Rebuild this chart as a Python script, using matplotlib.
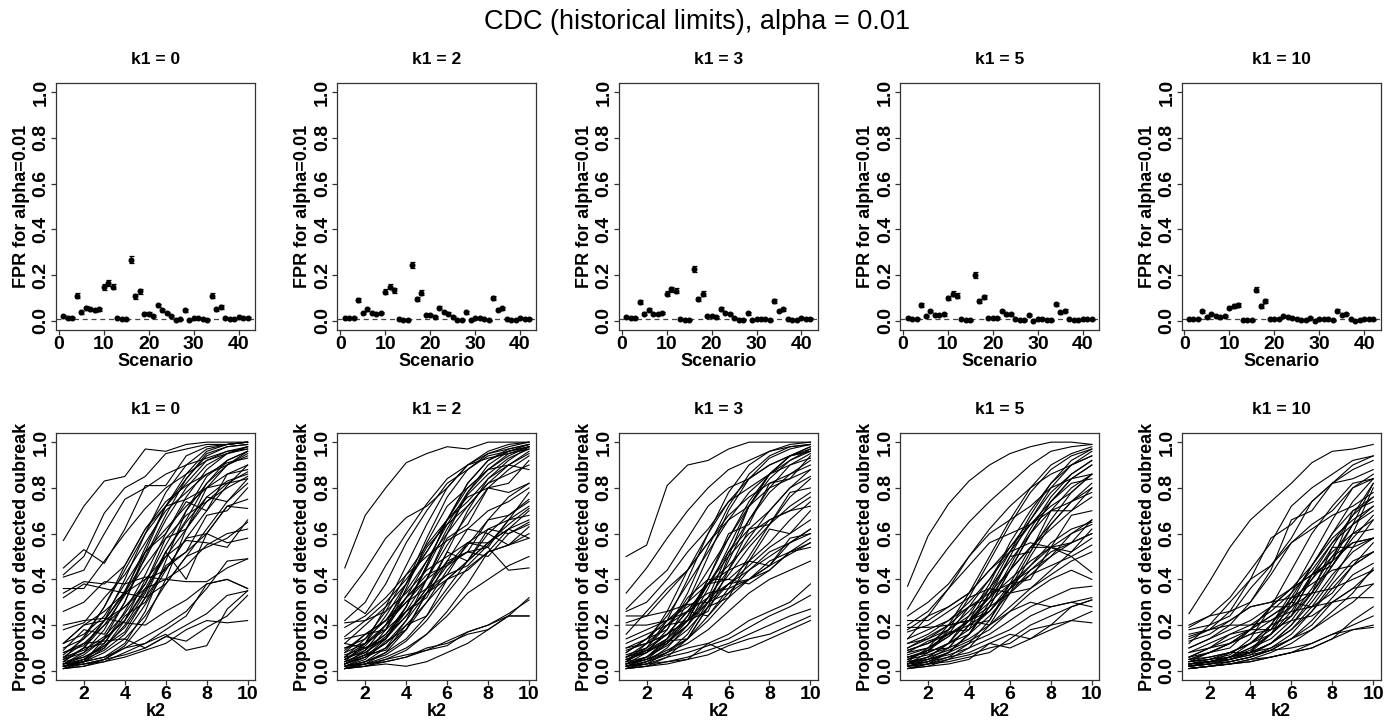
import numpy as np
import matplotlib
matplotlib.use("Agg")
import matplotlib.pyplot as plt

plt.rcParams['font.family'] = ['Liberation Sans', 'DejaVu Sans']

k1_values = [0, 2, 3, 5, 10]
scenarios = list(range(1, 43))
k2 = list(range(1, 11))
alpha = 0.01
n_sim = 4000

fpr_k1_0 = [0.023, 0.013, 0.013, 0.110, 0.038, 0.057, 0.050, 0.046, 0.050, 0.148,
            0.165, 0.150, 0.012, 0.006, 0.006, 0.268, 0.107, 0.129, 0.032, 0.032,
            0.020, 0.068, 0.046, 0.035, 0.020, 0.003, 0.006, 0.046, 0.003, 0.013,
            0.014, 0.008, 0.004, 0.110, 0.051, 0.060, 0.013, 0.006, 0.006, 0.019,
            0.013, 0.013]
fpr_k1_2 = [0.013, 0.012, 0.012, 0.093, 0.035, 0.051, 0.035, 0.029, 0.035, 0.128,
            0.149, 0.133, 0.010, 0.004, 0.004, 0.246, 0.097, 0.123, 0.025, 0.025,
            0.016, 0.057, 0.039, 0.032, 0.016, 0.003, 0.004, 0.038, 0.003, 0.012,
            0.013, 0.006, 0.003, 0.101, 0.048, 0.055, 0.010, 0.004, 0.004, 0.014,
            0.010, 0.010]
fpr_k1_3 = [0.016, 0.012, 0.012, 0.084, 0.032, 0.048, 0.029, 0.029, 0.035, 0.119,
            0.138, 0.132, 0.009, 0.004, 0.004, 0.228, 0.097, 0.119, 0.022, 0.022,
            0.016, 0.052, 0.035, 0.029, 0.014, 0.003, 0.004, 0.033, 0.003, 0.010,
            0.010, 0.006, 0.003, 0.087, 0.043, 0.051, 0.009, 0.004, 0.004, 0.012,
            0.009, 0.009]
fpr_k1_5 = [0.012, 0.007, 0.009, 0.070, 0.023, 0.043, 0.026, 0.026, 0.028, 0.100,
            0.119, 0.110, 0.006, 0.003, 0.003, 0.201, 0.087, 0.104, 0.014, 0.013,
            0.012, 0.043, 0.028, 0.028, 0.010, 0.003, 0.003, 0.026, 0.001, 0.009,
            0.009, 0.004, 0.003, 0.072, 0.038, 0.045, 0.006, 0.003, 0.003, 0.009,
            0.006, 0.006]
fpr_k1_10 = [0.006, 0.006, 0.009, 0.042, 0.017, 0.030, 0.020, 0.016, 0.020, 0.058,
             0.065, 0.070, 0.003, 0.003, 0.003, 0.136, 0.065, 0.088, 0.010, 0.010,
             0.009, 0.023, 0.016, 0.012, 0.007, 0.003, 0.003, 0.013, 0.001, 0.007,
             0.007, 0.006, 0.003, 0.045, 0.025, 0.029, 0.006, 0.001, 0.003, 0.006,
             0.006, 0.006]
fpr_all = [fpr_k1_0, fpr_k1_2, fpr_k1_3, fpr_k1_5, fpr_k1_10]

# detection proportions (percent), one row per scenario, columns k2 = 1..10
det_k1_0 = [
    [57, 72, 83, 85, 97, 96, 99, 100, 100, 100], [45, 53, 47, 62, 81, 81, 94, 98, 99, 100],
    [42, 50, 69, 80, 85, 95, 97, 99, 99, 100], [41, 44, 60, 75, 80, 86, 90, 93, 96, 98],
    [36, 36, 48, 60, 71, 80, 86, 92, 95, 97], [34, 39, 38, 46, 62, 74, 81, 86, 91, 93],
    [32, 38, 36, 34, 40, 50, 57, 56, 54, 66], [26, 30, 39, 38, 41, 40, 39, 39, 45, 49],
    [20, 22, 23, 21, 20, 26, 31, 38, 40, 36], [18, 21, 32, 42, 56, 70, 78, 86, 90, 96],
    [12, 16, 24, 38, 52, 72, 84, 95, 98, 99], [12, 20, 26, 34, 49, 66, 80, 90, 95, 98],
    [10, 14, 28, 44, 60, 72, 82, 92, 96, 97], [9, 18, 16, 30, 52, 60, 74, 70, 86, 88],
    [8, 11, 22, 28, 38, 58, 62, 76, 74, 82], [7, 14, 22, 35, 52, 62, 72, 80, 86, 90],
    [6, 9, 15, 25, 38, 55, 70, 82, 90, 95], [5, 8, 14, 22, 35, 50, 62, 74, 80, 85],
    [5, 10, 20, 33, 46, 58, 68, 74, 82, 87], [4, 10, 12, 24, 30, 46, 52, 68, 70, 80],
    [4, 6, 11, 19, 32, 45, 52, 60, 72, 75], [3, 7, 14, 22, 40, 44, 58, 60, 72, 71],
    [3, 5, 11, 17, 32, 38, 50, 54, 58, 65], [3, 6, 10, 22, 36, 52, 65, 76, 83, 86],
    [2, 4, 8, 14, 24, 38, 50, 62, 74, 84], [2, 5, 9, 16, 29, 44, 58, 70, 81, 90],
    [2, 4, 10, 20, 34, 52, 66, 82, 92, 96], [2, 5, 12, 26, 42, 60, 76, 88, 95, 98],
    [1, 4, 14, 30, 50, 68, 84, 94, 98, 99], [3, 8, 18, 34, 54, 72, 86, 96, 99, 100],
    [4, 10, 22, 40, 60, 78, 90, 97, 99, 100], [2, 3, 5, 7, 10, 15, 20, 25, 33, 35],
    [2, 3, 4, 6, 9, 12, 18, 22, 21, 22], [1, 2, 4, 8, 12, 18, 24, 38, 40, 36],
    [1, 3, 5, 10, 15, 20, 26, 36, 48, 49], [3, 4, 6, 10, 12, 16, 9, 11, 27, 35],
    [8, 12, 13, 14, 10, 15, 13, 19, 24, 33], [12, 20, 22, 34, 32, 52, 40, 60, 56, 58],
    [6, 12, 20, 28, 36, 40, 46, 55, 60, 62], [2, 4, 6, 12, 26, 48, 70, 85, 92, 96],
    [1, 2, 5, 11, 22, 40, 62, 80, 90, 94], [5, 15, 28, 46, 62, 72, 75, 80, 82, 84],
]
det_k1_2 = [
    [45, 68, 80, 91, 95, 98, 97, 100, 100, 100], [32, 44, 58, 67, 72, 80, 90, 95, 97, 99],
    [31, 25, 38, 56, 70, 82, 88, 94, 96, 98], [22, 30, 46, 60, 73, 84, 90, 93, 95, 97],
    [21, 22, 26, 34, 44, 50, 56, 62, 60, 64], [19, 24, 32, 42, 50, 57, 62, 60, 55, 63],
    [14, 16, 22, 30, 40, 47, 52, 54, 44, 45], [12, 20, 28, 38, 54, 64, 72, 82, 86, 90],
    [10, 14, 22, 35, 48, 60, 72, 82, 90, 95], [9, 16, 18, 32, 40, 58, 64, 80, 82, 92],
    [8, 12, 20, 32, 48, 64, 78, 88, 95, 98], [7, 10, 16, 26, 40, 55, 68, 80, 88, 94],
    [6, 12, 24, 38, 52, 66, 74, 84, 90, 96], [5, 9, 16, 28, 45, 62, 77, 86, 93, 97],
    [5, 10, 14, 26, 32, 48, 52, 66, 68, 74], [4, 7, 12, 20, 30, 40, 48, 56, 62, 66],
    [4, 8, 15, 24, 36, 48, 62, 70, 74, 80], [3, 6, 10, 18, 30, 44, 55, 66, 76, 82],
    [3, 7, 9, 20, 24, 40, 48, 62, 66, 78], [3, 6, 12, 22, 34, 46, 56, 56, 64, 71],
    [2, 5, 13, 18, 34, 42, 56, 54, 66, 68], [2, 4, 8, 14, 24, 36, 48, 56, 62, 58],
    [2, 4, 7, 13, 22, 34, 45, 52, 55, 58], [2, 3, 5, 7, 9, 13, 17, 20, 25, 31],
    [1, 2, 4, 6, 10, 12, 16, 18, 24, 32], [1, 3, 4, 6, 9, 11, 17, 20, 24, 24],
    [1, 2, 3, 2, 4, 8, 12, 18, 24, 24], [1, 3, 8, 18, 34, 52, 70, 84, 92, 98],
    [2, 6, 14, 28, 46, 66, 82, 92, 97, 99], [3, 9, 20, 38, 58, 76, 88, 95, 98, 100],
    [4, 12, 28, 46, 64, 80, 90, 96, 99, 100], [1, 4, 10, 22, 40, 60, 78, 90, 96, 99],
    [6, 14, 26, 42, 55, 66, 76, 80, 78, 82], [10, 12, 18, 26, 34, 40, 44, 52, 55, 60],
    [12, 10, 14, 24, 36, 52, 48, 60, 68, 75], [8, 16, 22, 32, 42, 46, 52, 50, 60, 65],
    [5, 11, 20, 30, 36, 42, 46, 55, 66, 72], [2, 3, 6, 10, 16, 24, 34, 40, 46, 50],
    [1, 2, 5, 9, 16, 26, 38, 52, 62, 70], [6, 8, 14, 28, 46, 66, 82, 92, 96, 98],
    [3, 7, 18, 36, 56, 72, 80, 88, 90, 88], [15, 22, 30, 40, 52, 66, 80, 88, 94, 98],
]
det_k1_3 = [
    [50, 55, 81, 90, 92, 97, 100, 100, 100, 100], [34, 45, 58, 70, 80, 88, 92, 96, 98, 99],
    [27, 36, 44, 58, 72, 80, 84, 90, 94, 96], [26, 30, 40, 52, 62, 74, 80, 86, 90, 93],
    [24, 24, 34, 44, 56, 66, 72, 80, 84, 88], [21, 24, 26, 29, 30, 34, 40, 48, 52, 54],
    [20, 20, 22, 26, 32, 38, 44, 50, 56, 62], [14, 18, 22, 28, 34, 36, 40, 44, 52, 56],
    [10, 14, 24, 38, 52, 66, 78, 86, 92, 97], [9, 12, 20, 30, 44, 58, 72, 84, 92, 96],
    [8, 14, 18, 32, 40, 60, 64, 82, 84, 94], [7, 10, 16, 26, 38, 52, 66, 78, 86, 92],
    [6, 10, 20, 22, 38, 44, 62, 64, 78, 80], [6, 9, 14, 22, 32, 44, 58, 70, 80, 85],
    [5, 8, 13, 20, 30, 42, 54, 64, 72, 78], [5, 9, 16, 26, 38, 50, 60, 66, 70, 76],
    [4, 9, 12, 22, 26, 44, 48, 62, 60, 70], [4, 6, 11, 18, 28, 38, 46, 54, 60, 66],
    [3, 6, 13, 14, 28, 32, 48, 46, 58, 60], [3, 5, 9, 14, 22, 32, 40, 46, 51, 56],
    [3, 5, 8, 12, 18, 26, 34, 40, 44, 48], [2, 4, 7, 10, 12, 16, 22, 26, 30, 38],
    [2, 3, 6, 8, 11, 14, 19, 24, 28, 33], [2, 3, 4, 6, 9, 12, 16, 20, 24, 27],
    [1, 2, 4, 5, 7, 11, 14, 16, 20, 24], [1, 2, 3, 5, 12, 8, 10, 14, 18, 22],
    [2, 5, 12, 24, 40, 58, 74, 86, 94, 98], [1, 4, 10, 20, 36, 54, 72, 86, 94, 98],
    [3, 8, 18, 34, 54, 72, 86, 94, 98, 99], [4, 10, 22, 40, 60, 78, 90, 96, 99, 100],
    [2, 6, 14, 30, 50, 70, 84, 93, 97, 99], [1, 3, 8, 16, 30, 48, 66, 80, 90, 95],
    [8, 14, 22, 30, 38, 40, 38, 44, 52, 58], [12, 16, 20, 26, 24, 34, 44, 52, 56, 62],
    [10, 12, 16, 22, 40, 40, 48, 56, 66, 74], [6, 12, 16, 22, 30, 38, 40, 46, 56, 60],
    [5, 8, 14, 24, 38, 46, 56, 66, 70, 72], [2, 4, 8, 14, 24, 36, 50, 64, 76, 84],
    [3, 6, 12, 20, 32, 52, 62, 70, 80, 88], [4, 12, 26, 44, 60, 74, 84, 90, 94, 96],
    [1, 2, 6, 14, 28, 50, 72, 86, 94, 97], [16, 26, 36, 44, 56, 68, 76, 82, 86, 90],
]
det_k1_5 = [
    [37, 59, 73, 83, 90, 95, 98, 100, 100, 99], [27, 42, 54, 65, 74, 82, 90, 96, 98, 99],
    [24, 30, 38, 50, 62, 72, 80, 86, 90, 94], [22, 22, 28, 34, 44, 54, 64, 72, 78, 86],
    [19, 19, 20, 22, 20, 26, 30, 28, 30, 28], [17, 20, 26, 32, 36, 34, 44, 50, 56, 66],
    [14, 18, 22, 28, 34, 44, 54, 64, 74, 82], [12, 16, 22, 30, 40, 52, 64, 74, 84, 90],
    [10, 14, 20, 28, 40, 54, 66, 78, 86, 92], [9, 12, 18, 26, 36, 48, 60, 70, 80, 86],
    [8, 13, 16, 28, 32, 50, 52, 70, 70, 80], [7, 10, 15, 22, 32, 44, 54, 62, 70, 76],
    [6, 9, 17, 18, 34, 38, 54, 54, 68, 70], [6, 8, 12, 18, 26, 36, 46, 54, 60, 66],
    [5, 9, 10, 20, 22, 38, 40, 54, 52, 62], [5, 7, 10, 14, 20, 28, 36, 44, 52, 58],
    [4, 6, 9, 13, 18, 26, 34, 40, 44, 40], [4, 5, 8, 12, 16, 22, 28, 32, 36, 37],
    [3, 5, 7, 10, 14, 18, 24, 28, 30, 32], [3, 4, 6, 8, 12, 16, 14, 20, 22, 21],
    [2, 3, 5, 7, 10, 12, 18, 20, 28, 31], [2, 3, 4, 6, 8, 14, 20, 24, 28, 31],
    [1, 2, 3, 5, 12, 10, 14, 18, 22, 26], [2, 4, 8, 16, 30, 46, 62, 76, 86, 92],
    [1, 3, 8, 16, 28, 44, 60, 74, 84, 90], [3, 6, 12, 22, 36, 52, 68, 82, 92, 97],
    [2, 5, 10, 20, 34, 50, 66, 80, 90, 96], [1, 3, 6, 12, 22, 36, 52, 66, 78, 86],
    [4, 10, 20, 34, 50, 66, 80, 90, 95, 98], [3, 8, 18, 32, 48, 64, 78, 88, 94, 97],
    [2, 4, 8, 16, 28, 44, 60, 74, 82, 84], [1, 2, 5, 10, 20, 34, 50, 64, 74, 80],
    [8, 10, 16, 22, 28, 34, 36, 42, 48, 52], [12, 14, 18, 24, 32, 40, 48, 54, 56, 60],
    [10, 15, 20, 22, 26, 38, 46, 56, 62, 65], [6, 8, 12, 16, 24, 34, 42, 46, 50, 55],
    [5, 9, 15, 22, 30, 38, 44, 52, 56, 60], [18, 24, 28, 34, 44, 52, 56, 54, 50, 43],
    [3, 6, 12, 24, 38, 56, 70, 82, 90, 94], [14, 24, 36, 46, 56, 60, 64, 70, 74, 78],
    [9, 12, 16, 20, 26, 36, 42, 50, 60, 64], [20, 26, 36, 50, 60, 66, 72, 80, 84, 86],
]
det_k1_10 = [
    [25, 39, 54, 66, 74, 82, 91, 96, 97, 99], [20, 24, 32, 44, 56, 72, 80, 86, 92, 94],
    [19, 24, 26, 30, 44, 66, 70, 82, 88, 92], [18, 20, 24, 36, 46, 58, 74, 82, 90, 94],
    [16, 18, 22, 28, 30, 36, 46, 60, 70, 76], [15, 18, 20, 20, 22, 26, 28, 30, 32, 32],
    [13, 16, 22, 28, 30, 32, 38, 44, 46, 52], [10, 14, 18, 22, 28, 36, 42, 48, 56, 58],
    [8, 12, 16, 20, 26, 34, 44, 56, 64, 72], [6, 10, 16, 18, 28, 28, 42, 46, 60, 62],
    [5, 8, 12, 18, 24, 30, 40, 50, 56, 58], [4, 8, 10, 18, 18, 32, 34, 54, 54, 58],
    [3, 4, 6, 10, 14, 22, 34, 48, 64, 82], [3, 4, 5, 8, 12, 20, 32, 46, 60, 80],
    [3, 4, 6, 9, 16, 26, 40, 54, 68, 82], [2, 3, 5, 8, 12, 18, 28, 40, 54, 66],
    [2, 3, 5, 7, 12, 20, 30, 42, 52, 58], [2, 3, 4, 6, 10, 16, 26, 38, 48, 52],
    [2, 3, 4, 6, 9, 14, 22, 32, 42, 47], [1, 2, 4, 6, 9, 14, 18, 26, 34, 45],
    [1, 2, 3, 5, 8, 12, 18, 24, 30, 38], [1, 2, 3, 4, 6, 8, 12, 16, 20, 24],
    [1, 2, 3, 5, 6, 8, 10, 14, 18, 20], [1, 2, 3, 4, 6, 8, 10, 14, 22, 28],
    [2, 4, 6, 10, 16, 24, 34, 46, 58, 68], [2, 3, 8, 8, 20, 24, 42, 48, 70, 74],
    [3, 5, 8, 12, 18, 28, 42, 56, 68, 76], [4, 6, 8, 12, 20, 32, 46, 58, 66, 72],
    [3, 4, 6, 8, 12, 18, 26, 36, 46, 52], [4, 5, 6, 8, 10, 14, 20, 30, 36, 44],
    [5, 6, 8, 12, 16, 24, 36, 50, 64, 70], [2, 4, 6, 12, 20, 34, 50, 66, 80, 86],
    [4, 5, 7, 14, 28, 44, 60, 72, 82, 84], [3, 4, 5, 8, 16, 30, 46, 60, 74, 84],
    [10, 14, 20, 30, 42, 56, 64, 70, 80, 84], [12, 20, 30, 40, 46, 56, 62, 68, 72, 78],
    [14, 18, 26, 40, 58, 64, 74, 82, 84, 88], [6, 8, 12, 18, 28, 36, 42, 52, 60, 66],
    [5, 8, 12, 16, 22, 28, 34, 36, 40, 44], [8, 10, 12, 16, 18, 22, 24, 30, 36, 38],
    [3, 4, 5, 7, 9, 10, 12, 16, 18, 19], [6, 10, 14, 18, 24, 30, 28, 34, 46, 56],
]
det_all = [det_k1_0, det_k1_2, det_k1_3, det_k1_5, det_k1_10]

W, H = 1395, 723
fig = plt.figure(figsize=(W / 100, H / 100), dpi=100)

tick_fs = 14
lab_fs = 13
title_fs = 12.5


def style_axes(ax):
    for s in ax.spines.values():
        s.set_color('#333333')
        s.set_linewidth(0.9)
    ax.tick_params(direction='out', length=3.5, width=0.9, color='#333333',
                   labelsize=tick_fs, pad=1)
    for lab in ax.get_xticklabels() + ax.get_yticklabels():
        lab.set_fontweight('bold')
    for lab in ax.get_yticklabels():
        lab.set_rotation(90)
        lab.set_va('center')


box_w = 199
col_step = 281.4
x0 = 56

for i, k1 in enumerate(k1_values):
    left = (x0 + col_step * i) / W
    # top row
    ax = fig.add_axes([left, 1 - 330 / H, box_w / W, 247 / H])
    p = np.array(fpr_all[i])
    err = 1.96 * np.sqrt(p * (1 - p) / n_sim)
    ax.errorbar(scenarios, p, yerr=err, fmt='o', ms=3.3, color='black',
                ecolor='black', elinewidth=0.9, capsize=1.8, capthick=0.9)
    ax.axhline(alpha, color='#444444', lw=0.9, ls=(0, (4, 3)))
    ax.set_xlim(1 - 0.04 * 41, 42 + 0.04 * 41)
    ax.set_ylim(-0.04, 1.04)
    ax.set_xticks([0, 10, 20, 30, 40])
    ax.set_yticks([0.0, 0.2, 0.4, 0.6, 0.8, 1.0])
    ax.set_yticklabels(['0.0', '0.2', '0.4', '0.6', '0.8', '1.0'])
    ax.set_xlabel('Scenario', fontsize=lab_fs, fontweight='bold', labelpad=0)
    ax.set_ylabel('FPR for alpha=0.01', fontsize=lab_fs, fontweight='bold', labelpad=2)
    ax.set_title(f'k1 = {k1}', fontsize=title_fs, fontweight='bold', pad=14)
    style_axes(ax)

    # bottom row
    ax2 = fig.add_axes([left, 1 - 680 / H, box_w / W, 247 / H])
    for row in det_all[i]:
        ax2.plot(k2, np.array(row) / 100.0, color='black', lw=0.8)
    ax2.set_xlim(1 - 0.04 * 9, 10 + 0.04 * 9)
    ax2.set_ylim(-0.04, 1.04)
    ax2.set_xticks([2, 4, 6, 8, 10])
    ax2.set_yticks([0.0, 0.2, 0.4, 0.6, 0.8, 1.0])
    ax2.set_yticklabels(['0.0', '0.2', '0.4', '0.6', '0.8', '1.0'])
    ax2.set_xlabel('k2', fontsize=lab_fs, fontweight='bold', labelpad=0)
    ax2.set_ylabel('Proportion of detected oubreak', fontsize=lab_fs,
                   fontweight='bold', labelpad=2)
    ax2.set_title(f'k1 = {k1}', fontsize=title_fs, fontweight='bold', pad=14)
    style_axes(ax2)

fig.suptitle('CDC (historical limits), alpha = 0.01', fontsize=19.5, y=0.988)
fig.savefig('out.png', dpi=100)
